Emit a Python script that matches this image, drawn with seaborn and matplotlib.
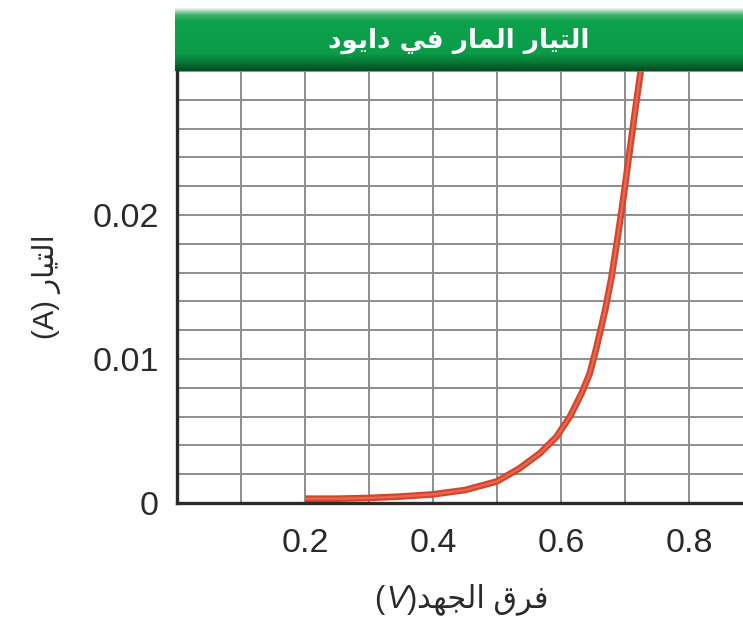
import numpy as np
import matplotlib
matplotlib.use('Agg')
import matplotlib.pyplot as plt
import matplotlib.colors as mcolors
from matplotlib.ticker import MultipleLocator, FixedLocator
import seaborn as sns

# diode I-V curve
voltage = [0.20, 0.25, 0.30, 0.35, 0.40, 0.45, 0.50, 0.535, 0.567, 0.593, 0.614,
           0.632, 0.645, 0.656, 0.669, 0.679, 0.687, 0.695, 0.702, 0.709, 0.716, 0.7245]
current = [0.0003, 0.0003, 0.00035, 0.00045, 0.0006, 0.0009, 0.0015, 0.0024, 0.00345, 0.0046, 0.0060,
           0.0076, 0.0090, 0.0109, 0.0134, 0.0157, 0.0180, 0.0204, 0.0227, 0.0250, 0.0273, 0.0300]

x_ticks = [0.2, 0.4, 0.6, 0.8]
x_tick_labels = ['0.2', '0.4', '0.6', '0.8']
y_ticks = [0, 0.01, 0.02]
y_tick_labels = ['0', '0.01', '0.02']

title_ar = 'التيار المار في دايود'
xlabel_ar = 'فرق الجهد'
ylabel_ar = 'التيار'

# matplotlib has no arabic shaping, so pick presentation forms by hand
# (isolated, final, initial, medial)
FORMS = {
    'ا': (0xFE8D, 0xFE8E, None, None),
    'ل': (0xFEDD, 0xFEDE, 0xFEDF, 0xFEE0),
    'ت': (0xFE95, 0xFE96, 0xFE97, 0xFE98),
    'ي': (0xFEF1, 0xFEF2, 0xFEF3, 0xFEF4),
    'ر': (0xFEAD, 0xFEAE, None, None),
    'م': (0xFEE1, 0xFEE2, 0xFEE3, 0xFEE4),
    'ف': (0xFED1, 0xFED2, 0xFED3, 0xFED4),
    'د': (0xFEA9, 0xFEAA, None, None),
    'و': (0xFEED, 0xFEEE, None, None),
    'ق': (0xFED5, 0xFED6, 0xFED7, 0xFED8),
    'ج': (0xFE9D, 0xFE9E, 0xFE9F, 0xFEA0),
    'ه': (0xFEE9, 0xFEEA, 0xFEEB, 0xFEEC),
}


def shape_ar(text):
    """return arabic text in visual (left to right) order with joined forms"""
    out = []
    for i, ch in enumerate(text):
        if ch not in FORMS:
            out.append(ch)
            continue
        iso, fin, ini, med = FORMS[ch]
        prev = text[i - 1] if i > 0 else ''
        nxt = text[i + 1] if i + 1 < len(text) else ''
        prev_joins = prev in FORMS and FORMS[prev][2] is not None
        next_joins = nxt in FORMS and ini is not None
        if prev_joins and next_joins:
            code = med
        elif prev_joins:
            code = fin
        elif next_joins:
            code = ini
        else:
            code = iso
        out.append(chr(code))
    return ''.join(out)[::-1]


sns.set_theme(style='white')
plt.rcParams['font.family'] = ['Liberation Sans', 'DejaVu Sans']

fig = plt.figure(figsize=(7.43, 6.24), dpi=100)
ax = fig.add_axes([177 / 743, 121 / 624, 566 / 743, 432 / 624])

grid_c = '#8e8e8e'
ax.set_xlim(0, 566 / 640)
ax.set_ylim(0, 0.03)
ax.xaxis.set_minor_locator(MultipleLocator(0.1))
ax.yaxis.set_minor_locator(MultipleLocator(0.002))
ax.grid(which='both', color=grid_c, linewidth=1.4)
ax.set_axisbelow(True)

sns.lineplot(x=voltage, y=current, ax=ax, color='#d4452e', linewidth=4.8,
             solid_capstyle='butt', solid_joinstyle='round', zorder=3)
sns.lineplot(x=voltage, y=current, ax=ax, color='#e9694f', linewidth=1.6,
             solid_capstyle='butt', solid_joinstyle='round', zorder=4)

ax.xaxis.set_major_locator(FixedLocator(x_ticks))
ax.set_xticklabels(x_tick_labels)
ax.yaxis.set_major_locator(FixedLocator(y_ticks))
ax.set_yticklabels(y_tick_labels)
ax.tick_params(axis='both', which='both', length=0, labelsize=24.5, labelcolor='#2a2a2a')
ax.tick_params(axis='x', pad=18)
ax.tick_params(axis='y', pad=13)

for side in ['top', 'right']:
    ax.spines[side].set_visible(False)
for side in ['left', 'bottom']:
    ax.spines[side].set_color('#2b2b2b')
    ax.spines[side].set_linewidth(2.4)
    ax.spines[side].set_zorder(5)

# x label: arabic part as the label, "(V)" chained on its left with an italic V
xl = ax.set_xlabel(shape_ar(xlabel_ar), fontsize=22, color='#2a2a2a')
ax.xaxis.set_label_coords(0.541, -0.187)
p1 = ax.annotate(')', xy=(0, 0), xycoords=xl, ha='right', va='bottom',
                 fontsize=22, color='#2a2a2a')
p2 = ax.annotate('V', xy=(0, 0), xycoords=p1, ha='right', va='bottom',
                 fontsize=22, color='#2a2a2a', style='italic')
ax.annotate('(', xy=(0, 0), xycoords=p2, xytext=(-2, 0), textcoords='offset points',
            ha='right', va='bottom', fontsize=22, color='#2a2a2a')

ax.set_ylabel('(A) ' + shape_ar(ylabel_ar), fontsize=21, color='#2a2a2a')
ax.yaxis.set_label_coords(-0.205, 0.5)

# green title banner
hdr = fig.add_axes([175 / 743, 553 / 624, 568 / 743, 63 / 624])
banner = mcolors.LinearSegmentedColormap.from_list(
    'banner', [(0.0, '#e6f2ea'), (0.1, '#3fb46d'), (0.2, '#0da24c'),
               (0.72, '#0b9c49'), (0.86, '#077a37'), (1.0, '#044d21')])
hdr.imshow(np.linspace(0, 1, 64).reshape(-1, 1), aspect='auto', cmap=banner,
           extent=[0, 1, 0, 1])
hdr.set_axis_off()
hdr.text(0.5, 0.47, shape_ar(title_ar), color='white', fontsize=19,
         fontweight='bold', ha='center', va='center', transform=hdr.transAxes,
         family=['DejaVu Sans'])

fig.savefig('out.png', dpi=100)
